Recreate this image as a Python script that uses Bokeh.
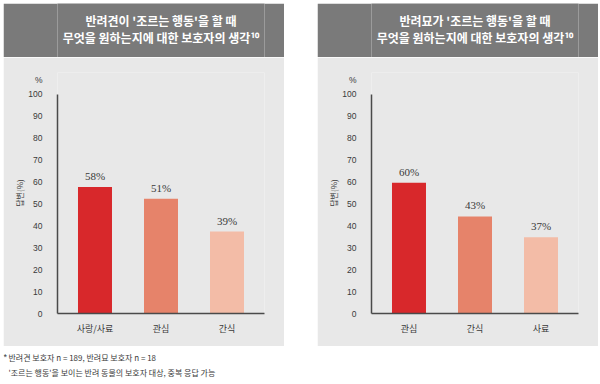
from bokeh.plotting import figure
from bokeh.models import ColumnDataSource, LabelSet, Label, FactorRange, Range1d, FixedTicker, Spacer
from bokeh.layouts import row, column
from bokeh.embed import file_html
from bokeh.resources import INLINE

# ---- data ----
dog_title = ["반려견이 '조르는 행동'을 할 때", "무엇을 원하는지에 대한 보호자의 생각¹⁰"]
dog_cats = ["사랑/사료", "관심", "간식"]
dog_vals = [57.7, 52.4, 37.4]
dog_labels = ["58%", "51%", "39%"]

cat_title = ["반려묘가 '조르는 행동'을 할 때", "무엇을 원하는지에 대한 보호자의 생각¹⁰"]
cat_cats = ["관심", "간식", "사료"]
cat_vals = [59.7, 44.3, 34.8]
cat_labels = ["60%", "43%", "37%"]

y_ticks = [0, 10, 20, 30, 40, 50, 60, 70, 80, 90, 100]
y_axis_title = "답변(%)"
y_unit = "%"
footnotes = ["반려견 보호자 n = 189, 반려묘 보호자 n = 18",
             "'조르는 행동'을 보이는 반려 동물의 보호자 대상, 중복 응답 가능"]

bar_colors = ["#d8282b", "#e6836a", "#f3bca7"]
HEAD = "#7a7a7a"
PANEL = "#e8e8e8"
TXT = "#3a3a3a"
KR = "Noto Sans CJK KR"
NUM = "Liberation Sans"
PW = 281
UNIT_POS = 106.4


def header(lines):
    h = figure(width=PW, height=54, x_range=Range1d(0, 1), y_range=Range1d(0, 1),
               output_backend="svg", toolbar_location=None, min_border=0)
    h.axis.visible = False
    h.grid.visible = False
    h.background_fill_color = HEAD
    h.border_fill_color = HEAD
    h.outline_line_color = None
    for yy, t in zip([0.676, 0.37], lines):
        h.add_layout(Label(x=0.5, y=yy, text=t, text_align="center", text_baseline="middle",
                           text_color="white", text_font_size="12px", text_font=KR,
                           text_font_style="bold"))
    return h


def chart(cats, vals, labels):
    src = ColumnDataSource(dict(cat=cats, val=vals, lab=labels, color=bar_colors))
    p = figure(width=PW, height=289,
               x_range=FactorRange(*cats, range_padding=0.068, range_padding_units="absolute"),
               y_range=Range1d(0, 110), output_backend="svg", toolbar_location=None,
               min_border_left=54, min_border_right=20, min_border_top=15, min_border_bottom=33)
    p.background_fill_color = PANEL
    p.border_fill_color = PANEL
    p.outline_line_color = None
    p.grid.visible = False
    p.vbar(x="cat", top="val", width=0.515, fill_color="color", line_color=None, source=src)
    p.add_layout(LabelSet(x="cat", y="val", text="lab", source=src, y_offset=5,
                          text_align="center", text_baseline="bottom", text_color=TXT,
                          text_font_size="11px", text_font=NUM))
    for ax in (p.xaxis[0], p.yaxis[0]):
        ax.axis_line_color = "#4a4a4a"
        ax.axis_line_width = 1.5
        ax.major_tick_line_color = None
        ax.minor_tick_line_color = None
        ax.major_label_text_color = TXT
    p.yaxis.bounds = (y_ticks[0], y_ticks[-1])
    p.yaxis.ticker = FixedTicker(ticks=y_ticks + [UNIT_POS])
    p.yaxis.major_label_overrides = {UNIT_POS: y_unit}
    p.yaxis.major_label_text_font = NUM
    p.yaxis.major_label_text_font_size = "8.5px"
    p.yaxis.major_label_standoff = 9
    p.yaxis.axis_label = y_axis_title
    p.yaxis.axis_label_text_font = KR
    p.yaxis.axis_label_text_font_size = "8px"
    p.yaxis.axis_label_text_font_style = "normal"
    p.yaxis.axis_label_text_color = TXT
    p.yaxis.axis_label_standoff = 0
    p.xaxis.major_label_text_font = KR
    p.xaxis.major_label_text_font_size = "9px"
    p.xaxis.major_label_standoff = 2
    return p


foot = figure(width=595, height=36, x_range=Range1d(0, 595), y_range=Range1d(0, 36),
              output_backend="svg", toolbar_location=None, min_border=0)
foot.axis.visible = False
foot.grid.visible = False
foot.outline_line_color = None
foot.background_fill_color = "white"
foot.border_fill_color = "white"
foot.add_layout(Label(x=0, y=26, text="*", text_baseline="middle", text_color=TXT,
                      text_font_size="9px", text_font=NUM))
for yy, t in zip([25, 10], footnotes):
    foot.add_layout(Label(x=5, y=yy, text=t, text_baseline="middle", text_color=TXT,
                          text_font_size="8px", text_font=KR))

panels = row(column(header(dog_title), chart(dog_cats, dog_vals, dog_labels)),
             Spacer(width=33, height=343),
             column(header(cat_title), chart(cat_cats, cat_vals, cat_labels)))

layout = column(Spacer(width=598, height=3),
                row(Spacer(width=3, height=379), column(panels, foot)))

open("out.html", "w").write(file_html(layout, INLINE))
